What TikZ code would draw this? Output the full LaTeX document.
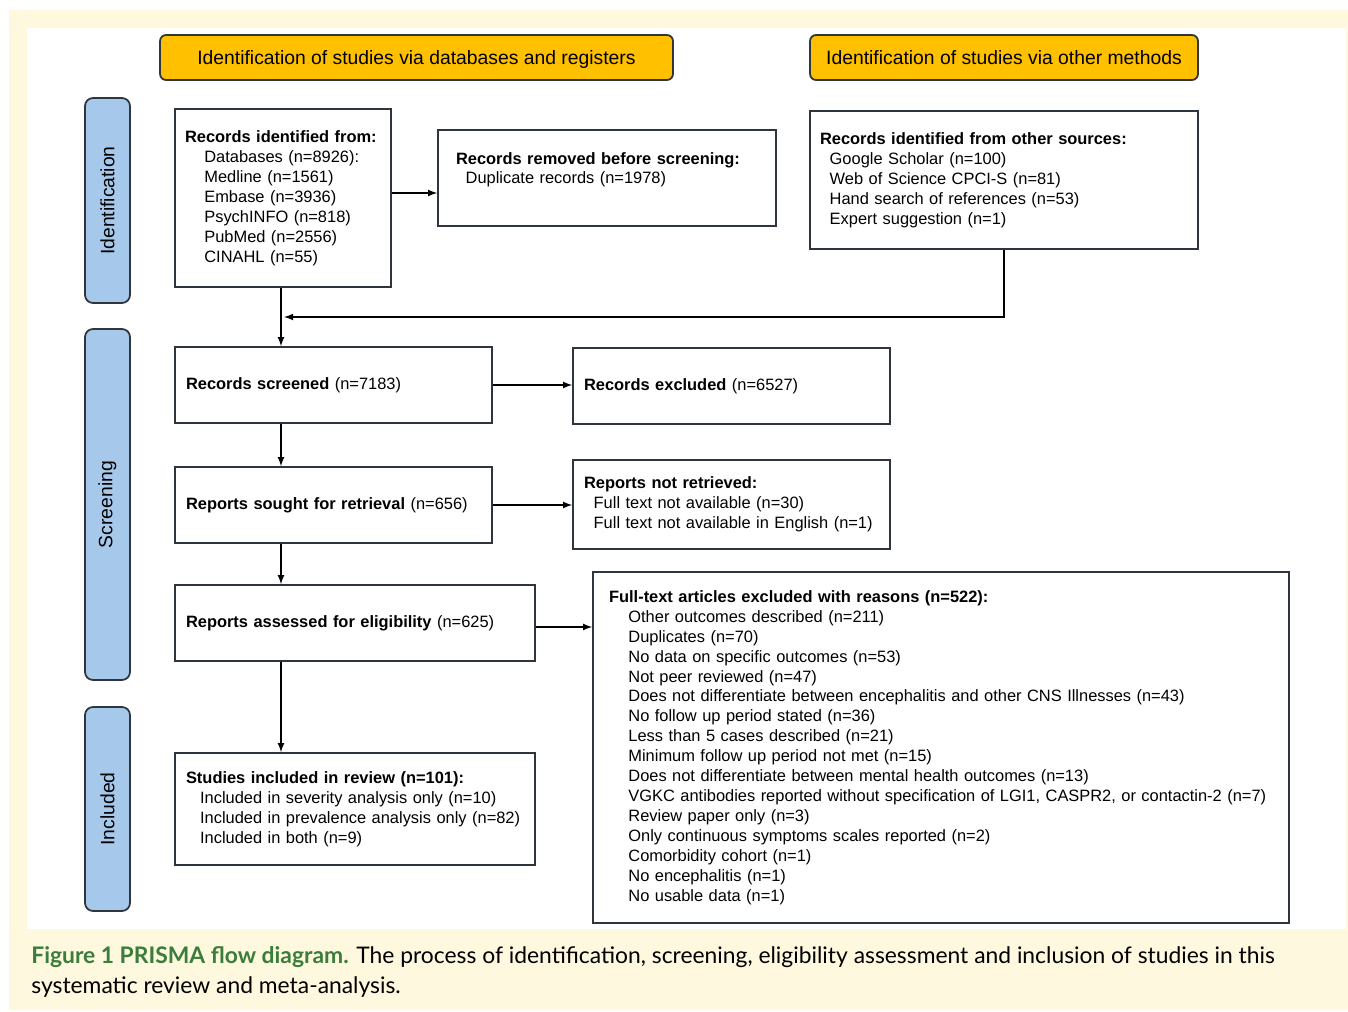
\documentclass[tikz,border=0pt]{standalone}
\usepackage{fontspec}
\setmainfont{Liberation Sans}
\newfontfamily\capfont{Lato}
\usepackage{xcolor}
\definecolor{hdryellow}{HTML}{FFC000}
\definecolor{sideblue}{HTML}{A6C8EA}
\definecolor{linecol}{HTML}{2F353D}
\definecolor{pagebg}{HTML}{FEF8DE}
\definecolor{capgreen}{HTML}{3B7D3B}

\begin{document}
\begin{tikzpicture}[
        x=0.02cm, y=-0.02cm,
        >=latex,
        every node/.style={font=\fontsize{9.35}{11.34}\selectfont},
        stage/.style={draw=linecol, line width=1pt, fill=hdryellow, rounded corners=0.12cm,
            minimum height=0.9cm, text depth=0pt, font=\fontsize{11}{13}\selectfont},
        phase/.style={draw=linecol, line width=1pt, fill=sideblue, rounded corners=0.16cm,
            rotate=90, minimum height=0.9cm, font=\fontsize{11}{13}\selectfont},
        box/.style={draw=linecol, line width=1pt, fill=white, align=left, inner xsep=0.22cm},
        link/.style={->, line width=0.8pt}
    ]

    % Page and panel
    \useasboundingbox (0,0) rectangle (1348,1011);
    \fill[pagebg] (9,10) rectangle (1348,1010);
    \fill[white] (27,28) rectangle (1346,929);

    % Column headers
    \node[stage, minimum width=10.26cm] (dbhead) at (416.5,57.5) {Identification of studies via databases and registers};
    \node[stage, minimum width=7.76cm] (othhead) at (1004,57.5) {Identification of studies via other methods};

    % Phase labels
    \node[phase, minimum width=4.1cm] (idphase) at (107.5,200.5) {Identification};
    \node[phase, minimum width=7.02cm] (scphase) at (107.5,504.5) {Screening};
    \node[phase, minimum width=4.08cm] (inphase) at (107.5,809) {Included};

    % Identification
    \node[box, inner xsep=0.2cm, text width=3.92cm, minimum height=3.56cm] (ids) at (283,198) {\mbox{\textbf{Records identified from:}}\\
        \hspace*{11pt}Databases (n=8926):\\
        \hspace*{11pt}Medline (n=1561)\\
        \hspace*{11pt}Embase (n=3936)\\
        \hspace*{11pt}PsychINFO (n=818)\\
        \hspace*{11pt}PubMed (n=2556)\\
        \hspace*{11pt}CINAHL (n=55)};
    \node[box, inner xsep=0.36cm, text width=6.04cm, minimum height=1.92cm] (dup) at (607,178) {\textbf{Records removed before screening:}\\
        \hspace*{5.5pt}Duplicate records (n=1978)\\ \mbox{}};
    \node[box, inner xsep=0.2cm, text width=7.36cm, minimum height=2.76cm] (oth) at (1004,180) {\textbf{Records identified from other sources:}\\
        \hspace*{5.5pt}Google Scholar (n=100)\\
        \hspace*{5.5pt}Web of Science CPCI-S (n=81)\\
        \hspace*{5.5pt}Hand search of references (n=53)\\
        \hspace*{5.5pt}Expert suggestion (n=1)};

    % Screening
    \node[box, text width=5.9cm, minimum height=1.52cm] (scr) at (333.5,385) {\textbf{Records screened} (n=7183)};
    \node[box, text width=5.9cm, minimum height=1.52cm] (exc) at (731.5,386) {\textbf{Records excluded} (n=6527)};
    \node[box, text width=5.9cm, minimum height=1.52cm] (sought) at (333.5,505) {\textbf{Reports sought for retrieval} (n=656)};
    \node[box, text width=5.9cm, minimum height=1.78cm] (notret) at (731.5,504.5) {\textbf{Reports not retrieved:}\\
        \hspace*{5.5pt}Full text not available (n=30)\\
        \hspace*{5.5pt}Full text not available in English (n=1)};
    \node[box, text width=6.76cm, minimum height=1.52cm] (elig) at (355,623) {\textbf{Reports assessed for eligibility} (n=625)};
    \node[box, inner xsep=0.32cm, text width=13.28cm, minimum height=7.02cm] (ftx) at (941,747.5) {\textbf{Full-text articles excluded with reasons (n=522):}\\
        \hspace*{11pt}Other outcomes described (n=211)\\
        \hspace*{11pt}Duplicates (n=70)\\
        \hspace*{11pt}No data on specific outcomes (n=53)\\
        \hspace*{11pt}Not peer reviewed (n=47)\\
        \hspace*{11pt}Does not differentiate between encephalitis and other CNS Illnesses (n=43)\\
        \hspace*{11pt}No follow up period stated (n=36)\\
        \hspace*{11pt}Less than 5 cases described (n=21)\\
        \hspace*{11pt}Minimum follow up period not met (n=15)\\
        \hspace*{11pt}Does not differentiate between mental health outcomes (n=13)\\
        \hspace*{11pt}\mbox{VGKC antibodies reported without specification of LGI1, CASPR2, or contactin-2 (n=7)}\\
        \hspace*{11pt}Review paper only (n=3)\\
        \hspace*{11pt}Only continuous symptoms scales reported (n=2)\\
        \hspace*{11pt}Comorbidity cohort (n=1)\\
        \hspace*{11pt}No encephalitis (n=1)\\
        \hspace*{11pt}No usable data (n=1)};

    % Included
    \node[box, text width=6.76cm, minimum height=2.24cm] (incl) at (355,809) {\textbf{Studies included in review (n=101):}\\
        \hspace*{8pt}Included in severity analysis only (n=10)\\
        \hspace*{8pt}\mbox{Included in prevalence analysis only (n=82)}\\
        \hspace*{8pt}Included in both (n=9)};

    % Connectors
    \coordinate (spine) at (281,0);
    \coordinate (join) at (284,317);
    \draw[link] ([yshift=0.1cm]ids.east) -- ([yshift=0.1cm]ids.east -| dup.west);
    \draw[link] (spine |- ids.south) -- (spine |- scr.north);
    \draw[link] (oth.south) |- (join);
    \draw[link] (scr.east) -- (scr.east -| exc.west);
    \draw[link] (spine |- scr.south) -- (spine |- sought.north);
    \draw[link] (sought.east) -- (sought.east -| notret.west);
    \draw[link] (spine |- sought.south) -- (spine |- elig.north);
    \draw[link] ([yshift=-0.08cm]elig.east) -- ([yshift=-0.08cm]elig.east -| ftx.west);
    \draw[link] (spine |- elig.south) -- (spine |- incl.north);

    % Caption
    \node[anchor=base west, inner sep=0, font=\capfont\fontsize{13}{17}\selectfont] (cap1) at (31,963)
        {\textcolor{capgreen}{\bfseries Figure 1 PRISMA flow diagram.} The process of identification, screening, eligibility assessment and inclusion of studies in this};
    \node[anchor=base west, inner sep=0, font=\capfont\fontsize{13}{17}\selectfont] (cap2) at (31,993)
        {systematic review and meta-analysis.};

\end{tikzpicture}
\end{document}
